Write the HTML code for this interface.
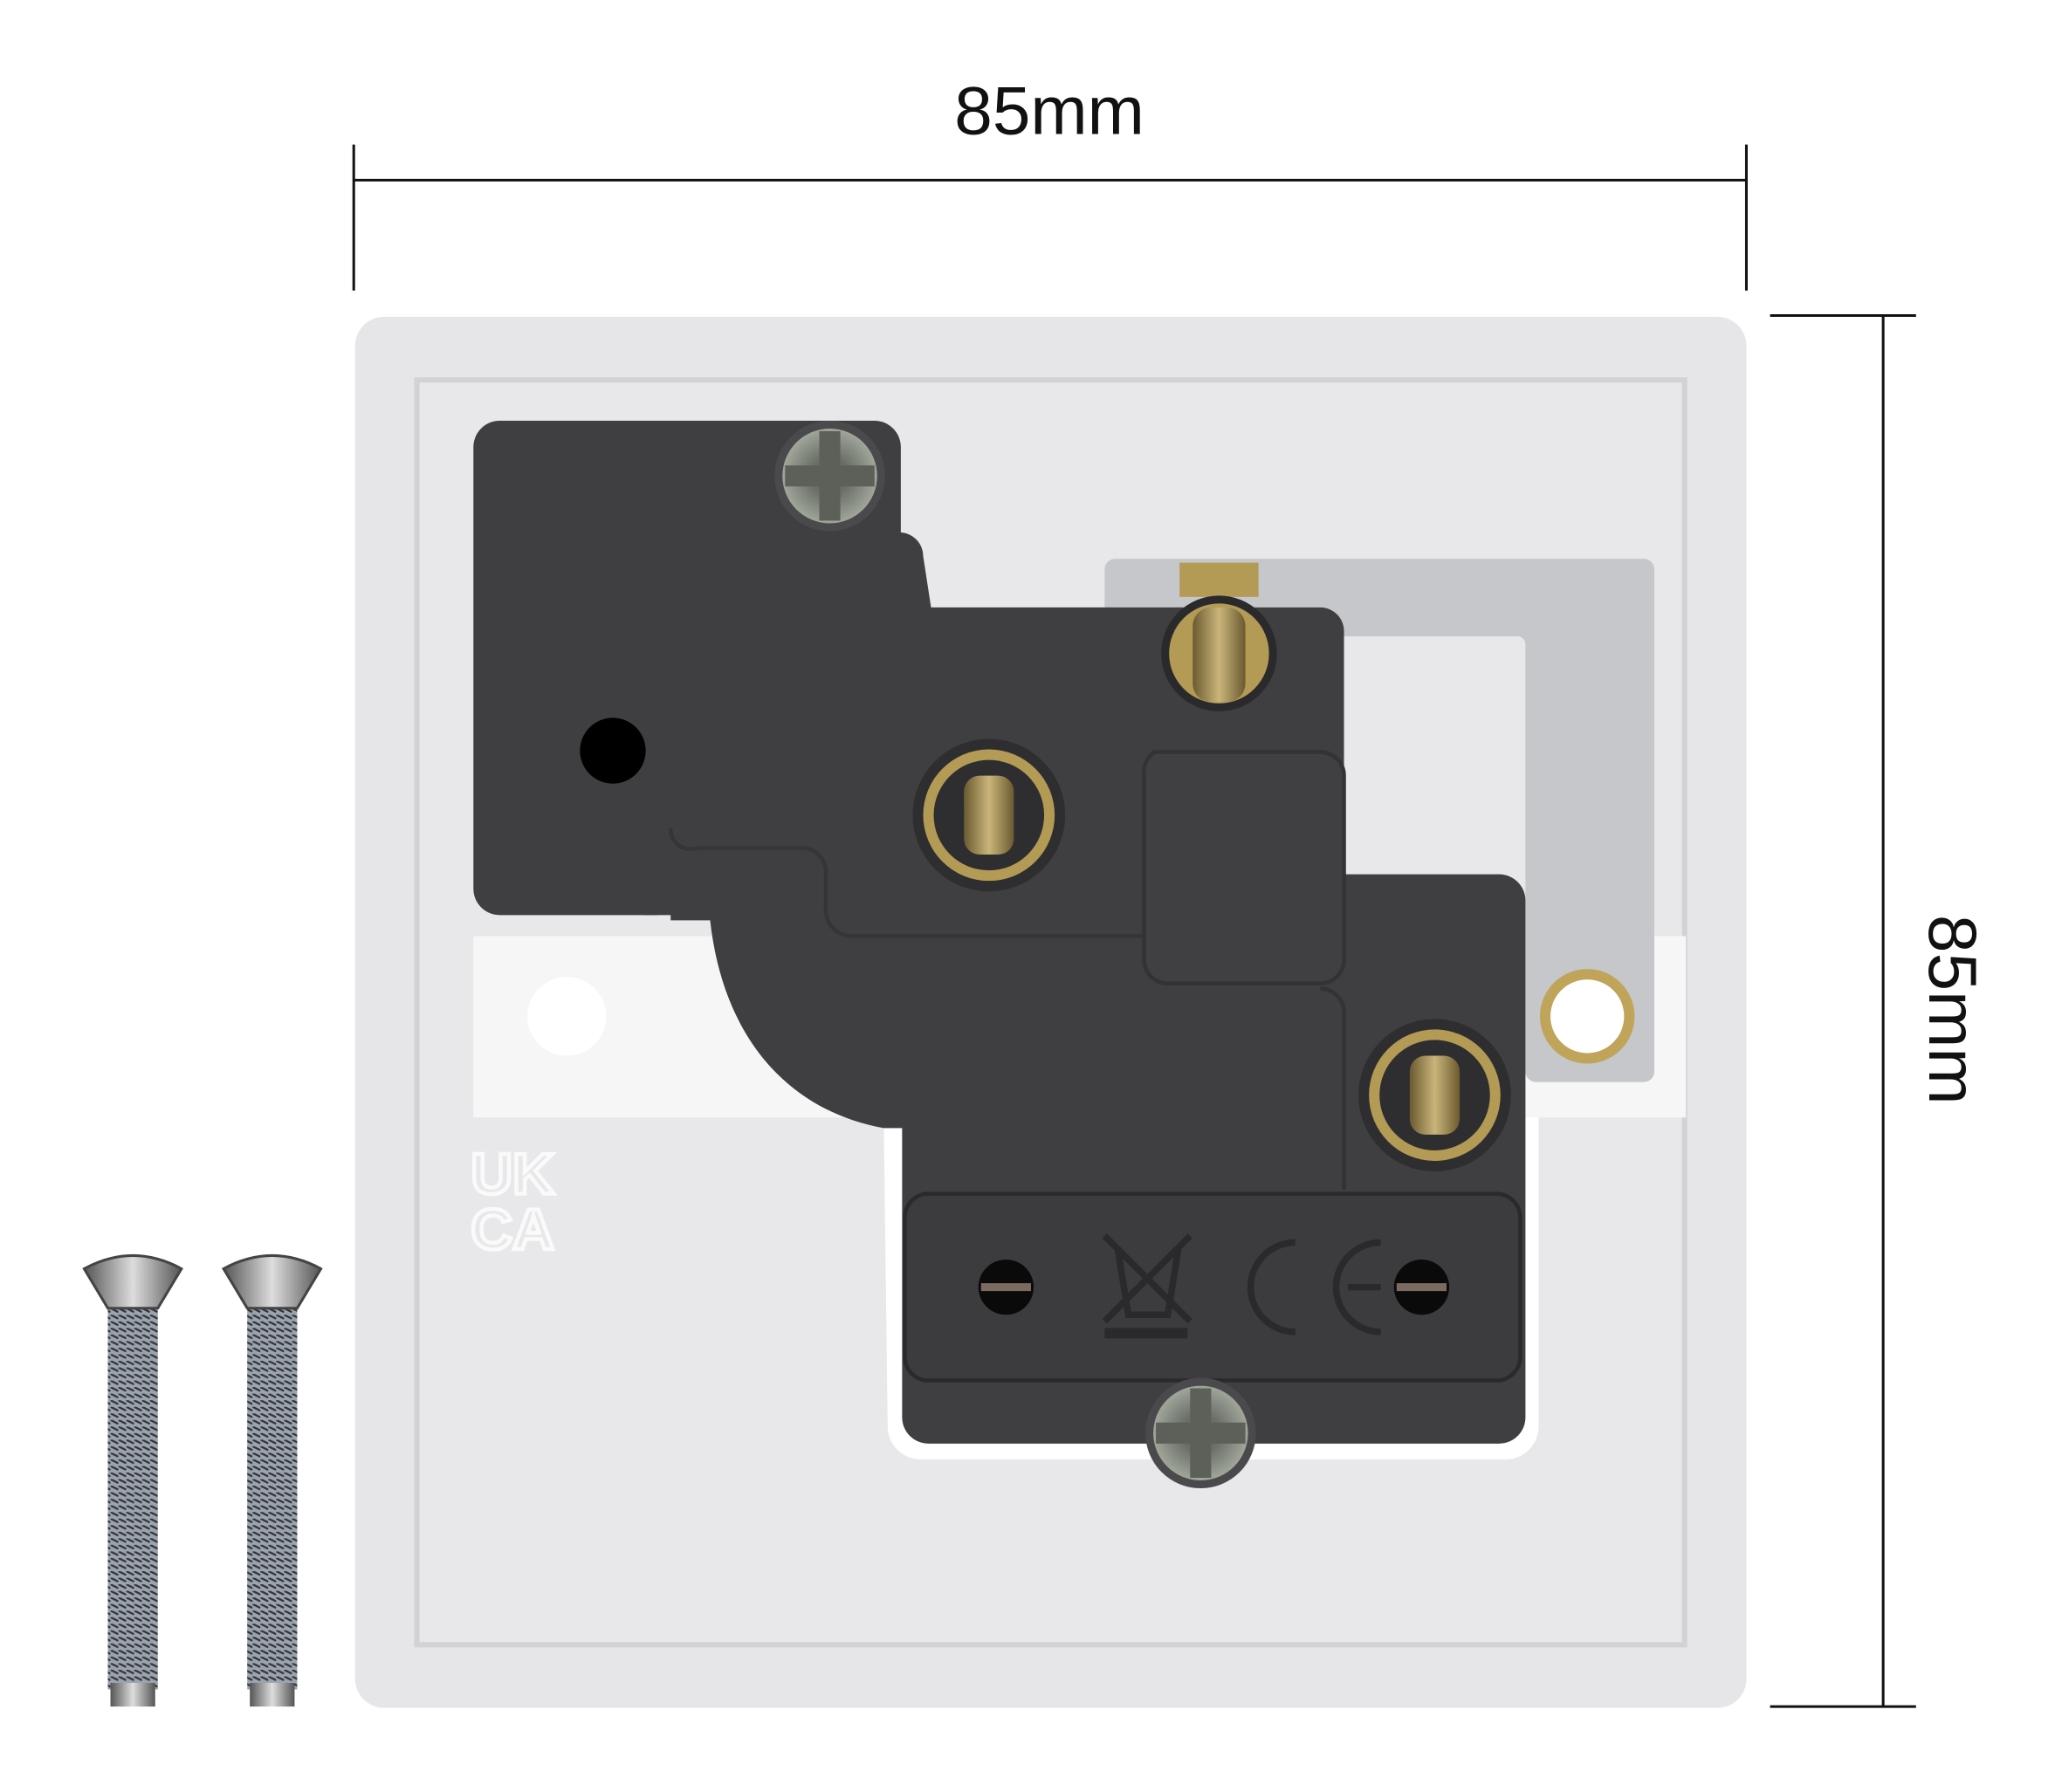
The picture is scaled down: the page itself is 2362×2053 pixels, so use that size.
<!DOCTYPE html>
<html><head><style>html,body{margin:0;padding:0;background:#fff}svg{display:block}</style></head>
<body>
<svg width="2362" height="2053" viewBox="0 0 1568 1363" preserveAspectRatio="none" xmlns="http://www.w3.org/2000/svg">
<defs>
<linearGradient id="thread" x1="0" x2="1"><stop offset="0" stop-color="#6b5a30"/><stop offset="0.5" stop-color="#c9b57a"/><stop offset="1" stop-color="#6b5a30"/></linearGradient>
<linearGradient id="scr" x1="0" x2="1"><stop offset="0" stop-color="#555"/><stop offset="0.5" stop-color="#ddd"/><stop offset="1" stop-color="#555"/></linearGradient>
<pattern id="thr" width="6" height="5" patternUnits="userSpaceOnUse"><rect width="6" height="5" fill="#9aa4b0"/><line x1="0" y1="0" x2="6" y2="3" stroke="#333" stroke-width="1.5"/></pattern>
<radialGradient id="ph" cx="50%" cy="50%" r="50%"><stop offset="0.4" stop-color="#6a6e66"/><stop offset="1" stop-color="#a0a69a"/></radialGradient>
</defs>
<line x1="269" y1="137" x2="1328" y2="137" stroke="#111" stroke-width="2"/>
<line x1="269" y1="110" x2="269" y2="221" stroke="#111" stroke-width="2"/>
<line x1="1328" y1="110" x2="1328" y2="221" stroke="#111" stroke-width="2"/>
<text x="798" y="102" font-family="Liberation Sans, sans-serif" font-size="52" text-anchor="middle" fill="#111">85mm</text>
<line x1="1432" y1="240" x2="1432" y2="1298" stroke="#111" stroke-width="2"/>
<line x1="1346" y1="240" x2="1457" y2="240" stroke="#111" stroke-width="2"/>
<line x1="1346" y1="1298" x2="1457" y2="1298" stroke="#111" stroke-width="2"/>
<text transform="translate(1467,768) rotate(90)" font-family="Liberation Sans, sans-serif" font-size="52" text-anchor="middle" fill="#111">85mm</text>
<rect x="270" y="241" width="1058" height="1058" rx="22" fill="#e6e6e8"/>
<rect x="317" y="289" width="964" height="962" fill="#e8e8ea" stroke="#d2d2d4" stroke-width="4"/>
<rect x="360" y="712" width="922" height="138" fill="#f6f6f7"/>
<circle cx="431" cy="773" r="30" fill="#fff"/>
<text x="358" y="908" font-family="Liberation Sans, sans-serif" font-weight="bold" font-size="44" fill="none" stroke="#fafafa" stroke-width="3">UK</text>
<text x="358" y="950" font-family="Liberation Sans, sans-serif" font-weight="bold" font-size="44" fill="none" stroke="#fafafa" stroke-width="3">CA</text>
<path d="M848 425 H1250 a8 8 0 0 1 8 8 V815 a8 8 0 0 1 -8 8 H1168 a8 8 0 0 1 -8 -8 V490 a6 6 0 0 0 -6 -6 H848 a8 8 0 0 1 -8 -8 V433 a8 8 0 0 1 8 -8Z" fill="#c5c7ca"/>
<circle cx="1207" cy="773" r="36" fill="#bfa45a"/><circle cx="1207" cy="773" r="28" fill="#fff"/>
<path d="M672 850 H1170 V1085 a25 25 0 0 1 -25 25 H700 a25 25 0 0 1 -25 -25Z" fill="#fff"/>
<g fill="#3f3f41">
<path d="M380 320 H665 a20 20 0 0 1 20 20 V420 H540 V696 H380 a20 20 0 0 1 -20 -20 V340 a20 20 0 0 1 20 -20Z"/>
<path d="M445 404 H500 V696 H490 a20 20 0 0 1 -20 -20 V658 H445 a18 18 0 0 1 -18 -18 V422 a18 18 0 0 1 18 -18Z"/>
<path d="M530 405 H684 a18 18 0 0 1 18 18 L708 462 H1004 a18 18 0 0 1 18 18 V665 H1140 a20 20 0 0 1 20 20 V1078 a20 20 0 0 1 -20 20 H706 a20 20 0 0 1 -20 -20 V858 H672 C600 845 550 790 540 700 H510 V425 a20 20 0 0 1 20 -20Z"/>
</g>
<path d="M510 630 a15 15 0 0 0 20 15 H610 a18 18 0 0 1 18 18 V690 a20 20 0 0 0 20 22 H870" fill="none" stroke="#2e2e30" stroke-width="3" opacity="0.6"/>
<path d="M878 572 H1004 a18 18 0 0 1 18 18 V730 a18 18 0 0 1 -18 18 H888 a18 18 0 0 1 -18 -18 V590 a18 18 0 0 1 8 -18Z" fill="#404042" stroke="#333335" stroke-width="3"/>
<path d="M1022 770 a18 18 0 0 0 -18 -18" fill="none" stroke="#333" stroke-width="3"/>
<line x1="1022" y1="770" x2="1022" y2="905" stroke="#333" stroke-width="3"/>
<rect x="688" y="908" width="468" height="142" rx="18" fill="#3c3c3e" stroke="#2a2a2c" stroke-width="3"/>
<circle cx="466" cy="571" r="25" fill="#000"/>
<circle cx="631" cy="362" r="42" fill="#4a4a4c"/><circle cx="631" cy="362" r="36" fill="url(#ph)"/>
<rect x="623" y="328" width="16" height="68" fill="#5c6058"/><rect x="597" y="354" width="68" height="16" fill="#5c6058"/>
<circle cx="913" cy="1090" r="42" fill="#4a4a4c"/><circle cx="913" cy="1090" r="36" fill="url(#ph)"/>
<rect x="905" y="1056" width="16" height="68" fill="#5c6058"/><rect x="879" y="1082" width="68" height="16" fill="#5c6058"/>
<rect x="897" y="428" width="60" height="26" fill="#b39a55"/>
<circle cx="927" cy="497" r="44" fill="#2a2a2c"/><circle cx="927" cy="497" r="38" fill="#b39a55"/><rect x="907" y="462" width="40" height="72" rx="14" fill="url(#thread)"/>
<circle cx="752" cy="620" r="58" fill="#2e2e30"/><circle cx="752" cy="620" r="50" fill="#b39a55"/><circle cx="752" cy="620" r="42" fill="#2e2e30"/><rect x="733" y="590" width="38" height="60" rx="12" fill="url(#thread)"/>
<circle cx="1091" cy="833" r="58" fill="#2e2e30"/><circle cx="1091" cy="833" r="50" fill="#b39a55"/><circle cx="1091" cy="833" r="42" fill="#2e2e30"/><rect x="1072" y="803" width="38" height="60" rx="12" fill="url(#thread)"/>
<circle cx="765" cy="979" r="21" fill="#0a0a0a"/><rect x="746" y="976" width="38" height="6" fill="#7a6a60"/>
<circle cx="1081" cy="979" r="21" fill="#0a0a0a"/><rect x="1062" y="976" width="38" height="6" fill="#7a6a60"/>
<g stroke="#2a2a2c" stroke-width="5" fill="none">
<path d="M850 950 L858 1000 H888 L896 950"/><line x1="840" y1="940" x2="905" y2="1005"/><line x1="905" y1="940" x2="840" y2="1005"/>
<path d="M985 945 a34 34 0 1 0 0 68"/><path d="M1050 945 a34 34 0 1 0 0 68 M1025 979 H1050"/>
</g>
<rect x="840" y="1010" width="63" height="8" fill="#2a2a2c"/>
<g>
<rect x="82" y="985" width="38" height="300" fill="url(#thr)"/><rect x="84" y="1280" width="34" height="18" fill="url(#scr)"/>
<path d="M64 965 Q101 945 138 965 L120 995 H82Z" fill="url(#scr)" stroke="#444" stroke-width="2"/>
<rect x="188" y="985" width="38" height="300" fill="url(#thr)"/><rect x="190" y="1280" width="34" height="18" fill="url(#scr)"/>
<path d="M170 965 Q207 945 244 965 L226 995 H188Z" fill="url(#scr)" stroke="#444" stroke-width="2"/>
</g>
</svg>
</body></html>
